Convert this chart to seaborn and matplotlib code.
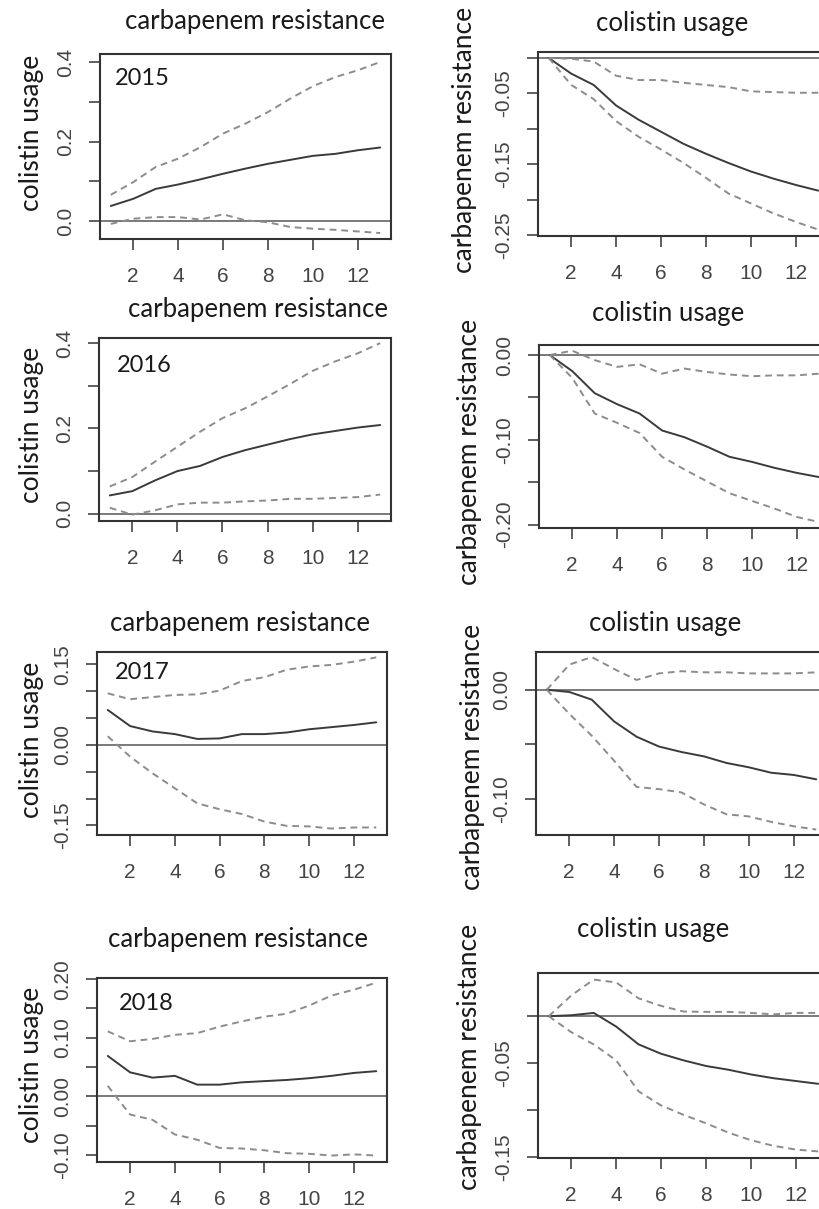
import pandas as pd
import matplotlib
matplotlib.use('Agg')
import matplotlib.pyplot as plt
import seaborn as sns

# impulse responses, horizon 1..13
steps = [1, 2, 3, 4, 5, 6, 7, 8, 9, 10, 11, 12, 13]
years = ['2015', '2016', '2017', '2018']

# left column: shock carbapenem resistance -> colistin usage
cr_2015_irf = [0.038, 0.056, 0.081, 0.092, 0.105, 0.119, 0.132, 0.144, 0.154, 0.164, 0.169, 0.178, 0.185]
cr_2015_hi = [0.066, 0.098, 0.136, 0.157, 0.186, 0.220, 0.245, 0.274, 0.308, 0.339, 0.362, 0.379, 0.400]
cr_2015_lo = [-0.007, 0.006, 0.010, 0.010, 0.004, 0.017, 0.002, -0.003, -0.015, -0.019, -0.022, -0.026, -0.030]

cr_2016_irf = [0.043, 0.053, 0.078, 0.100, 0.112, 0.133, 0.149, 0.162, 0.175, 0.186, 0.194, 0.202, 0.208]
cr_2016_hi = [0.064, 0.086, 0.122, 0.157, 0.192, 0.224, 0.247, 0.275, 0.304, 0.335, 0.357, 0.376, 0.400]
cr_2016_lo = [0.014, -0.002, 0.008, 0.022, 0.026, 0.026, 0.029, 0.031, 0.035, 0.035, 0.037, 0.039, 0.045]

cr_2017_irf = [0.065, 0.035, 0.025, 0.020, 0.011, 0.012, 0.020, 0.020, 0.023, 0.029, 0.033, 0.037, 0.042]
cr_2017_hi = [0.096, 0.085, 0.089, 0.093, 0.094, 0.101, 0.119, 0.126, 0.140, 0.146, 0.149, 0.155, 0.163]
cr_2017_lo = [0.016, -0.022, -0.053, -0.081, -0.109, -0.120, -0.129, -0.143, -0.151, -0.152, -0.156, -0.154, -0.154]

cr_2018_irf = [0.069, 0.041, 0.032, 0.035, 0.020, 0.020, 0.024, 0.026, 0.028, 0.031, 0.035, 0.040, 0.043]
cr_2018_hi = [0.111, 0.094, 0.098, 0.105, 0.108, 0.119, 0.128, 0.136, 0.141, 0.155, 0.172, 0.182, 0.194]
cr_2018_lo = [0.018, -0.031, -0.040, -0.065, -0.074, -0.088, -0.089, -0.092, -0.097, -0.098, -0.101, -0.099, -0.101]

# right column: shock colistin usage -> carbapenem resistance
cu_2015_irf = [0.0, -0.022, -0.038, -0.067, -0.087, -0.104, -0.121, -0.135, -0.148, -0.160, -0.170, -0.179, -0.187]
cu_2015_hi = [0.0, -0.001, -0.005, -0.025, -0.031, -0.031, -0.035, -0.038, -0.041, -0.047, -0.048, -0.049, -0.049]
cu_2015_lo = [0.0, -0.038, -0.058, -0.089, -0.111, -0.129, -0.148, -0.169, -0.191, -0.205, -0.219, -0.231, -0.242]

cu_2016_irf = [0.0, -0.019, -0.045, -0.058, -0.069, -0.089, -0.097, -0.108, -0.120, -0.126, -0.133, -0.139, -0.144]
cu_2016_hi = [0.0, 0.005, -0.006, -0.014, -0.011, -0.022, -0.016, -0.020, -0.023, -0.025, -0.024, -0.024, -0.022]
cu_2016_lo = [0.0, -0.027, -0.069, -0.080, -0.092, -0.120, -0.135, -0.149, -0.163, -0.172, -0.181, -0.191, -0.197]

cu_2017_irf = [0.0, -0.002, -0.009, -0.029, -0.043, -0.052, -0.057, -0.061, -0.067, -0.071, -0.076, -0.078, -0.082]
cu_2017_hi = [0.0, 0.023, 0.030, 0.019, 0.009, 0.015, 0.017, 0.016, 0.016, 0.015, 0.015, 0.015, 0.016]
cu_2017_lo = [0.0, -0.022, -0.042, -0.065, -0.089, -0.091, -0.094, -0.105, -0.114, -0.116, -0.121, -0.125, -0.128]

cu_2018_irf = [0.0, 0.001, 0.0035, -0.011, -0.030, -0.040, -0.047, -0.053, -0.057, -0.062, -0.066, -0.069, -0.072]
cu_2018_hi = [0.0, 0.022, 0.039, 0.036, 0.019, 0.011, 0.005, 0.0046, 0.0046, 0.0035, 0.002, 0.0035, 0.0035]
cu_2018_lo = [0.0, -0.017, -0.030, -0.047, -0.080, -0.095, -0.105, -0.114, -0.124, -0.132, -0.138, -0.142, -0.144]

# tick labels (R only prints every other one)
x_ticks = [2, 4, 6, 8, 10, 12]
cr_yticks = [
    ([0.0, 0.1, 0.2, 0.3, 0.4], ['0.0', '', '0.2', '', '0.4']),
    ([0.0, 0.1, 0.2, 0.3, 0.4], ['0.0', '', '0.2', '', '0.4']),
    ([-0.15, -0.10, -0.05, 0.0, 0.05, 0.10, 0.15], ['-0.15', '', '', '0.00', '', '', '0.15']),
    ([-0.10, -0.05, 0.0, 0.05, 0.10, 0.15, 0.20], ['-0.10', '', '0.00', '', '0.10', '', '0.20']),
]
cu_yticks = [
    ([-0.25, -0.20, -0.15, -0.10, -0.05, 0.0], ['-0.25', '', '-0.15', '', '-0.05', '']),
    ([-0.20, -0.15, -0.10, -0.05, 0.0], ['-0.20', '', '-0.10', '', '0.00']),
    ([-0.10, -0.05, 0.0], ['-0.10', '', '0.00']),
    ([-0.15, -0.10, -0.05, 0.0], ['-0.15', '', '-0.05', '']),
]

left_series = [(cr_2015_irf, cr_2015_hi, cr_2015_lo), (cr_2016_irf, cr_2016_hi, cr_2016_lo),
               (cr_2017_irf, cr_2017_hi, cr_2017_lo), (cr_2018_irf, cr_2018_hi, cr_2018_lo)]
right_series = [(cu_2015_irf, cu_2015_hi, cu_2015_lo), (cu_2016_irf, cu_2016_hi, cu_2016_lo),
                (cu_2017_irf, cu_2017_hi, cu_2017_lo), (cu_2018_irf, cu_2018_hi, cu_2018_lo)]

# ---- layout (pixels on the 820x1209 canvas) ----
W, H = 820, 1209
# left, top, right, bottom of the plot box, ylim, title (x, y), ylabel (x, y), year pos (axes frac)
left_layout = [
    ((100, 54, 391, 239), (-0.045, 0.42), (255, 22), (32, 133), (0.05, 0.87)),
    ((99, 338, 391, 521), (-0.017, 0.412), (258, 310), (32, 425), (0.06, 0.85)),
    ((97, 652, 387, 835), (-0.168, 0.173), (240, 623), (32, 740), (0.06, 0.89)),
    ((97, 978, 387, 1162), (-0.112, 0.202), (238, 940), (32, 1065), (0.075, 0.86)),
]
right_layout = [
    ((538, 52, 829, 236), (-0.251, 0.0085), (672, 23), (465, 140)),
    ((539, 345, 830, 528), (-0.204, 0.0118), (668, 313), (470, 452)),
    ((536, 652, 827, 835), (-0.133, 0.0346), (665, 623), (473, 757)),
    ((538, 973, 829, 1158), (-0.151, 0.046), (653, 930), (470, 1057)),
]

sns.set_style('white')
plt.rcParams['font.family'] = ['Liberation Sans', 'DejaVu Sans']
label_font = ['Lato', 'DejaVu Sans']

fig = plt.figure(figsize=(W / 100, H / 100), dpi=100)

palette = {'irf': '#3a3a3a', 'upper': '#8c8c8c', 'lower': '#8c8c8c'}
dashes = {'irf': '', 'upper': (3.5, 2.5), 'lower': (3.5, 2.5)}


def rect(box):
    l, t, r, b = box
    return [l / W, 1 - b / H, (r - l) / W, (b - t) / H]


def draw_panel(series, box, ylim, yticks, title, title_xy, ylabel, ylabel_xy, year=None, year_xy=None):
    ax = fig.add_axes(rect(box))
    irf, hi, lo = series
    df = pd.DataFrame({
        'step': steps * 3,
        'value': irf + hi + lo,
        'band': ['irf'] * len(steps) + ['upper'] * len(steps) + ['lower'] * len(steps),
    })
    ax.axhline(0, color='#555555', lw=1.1, zorder=1)
    sns.lineplot(data=df, x='step', y='value', hue='band', style='band',
                 palette=palette, dashes=dashes, estimator=None,
                 linewidth=1.4, legend=False, ax=ax)
    ax.set_xlim(0.52, 13.48)
    ax.set_ylim(*ylim)
    ax.set_xticks(x_ticks)
    ax.set_xticklabels([str(t) for t in x_ticks])
    ax.set_yticks(yticks[0])
    ax.set_yticklabels(yticks[1])
    ax.set_xlabel('')
    ax.set_ylabel('')
    ax.tick_params(axis='both', direction='out', length=8, width=1.1, color='#333333',
                   labelsize=15, labelcolor='#444444', left=True, bottom=True)
    ax.tick_params(axis='x', pad=12)
    ax.tick_params(axis='y', labelrotation=90, pad=10)
    for lab in ax.get_yticklabels():
        lab.set_va('center')
    for s in ax.spines.values():
        s.set_visible(True)
        s.set_color('#333333')
        s.set_linewidth(1.5)
    fig.text(title_xy[0] / W, 1 - title_xy[1] / H, title, ha='center', va='center',
             fontsize=18.5, color='#1a1a1a', family=label_font)
    fig.text(ylabel_xy[0] / W, 1 - ylabel_xy[1] / H, ylabel, ha='center', va='center',
             rotation=90, fontsize=19, color='#1a1a1a', family=label_font)
    if year is not None:
        ax.text(year_xy[0], year_xy[1], year, transform=ax.transAxes, ha='left', va='center',
                fontsize=17, color='#1a1a1a', family=label_font)
    return ax


for i in range(4):
    box, ylim, t_xy, yl_xy, yr_xy = left_layout[i]
    draw_panel(left_series[i], box, ylim, cr_yticks[i], 'carbapenem resistance', t_xy,
               'colistin usage', yl_xy, years[i], yr_xy)
    box, ylim, t_xy, yl_xy = right_layout[i]
    draw_panel(right_series[i], box, ylim, cu_yticks[i], 'colistin usage', t_xy,
               'carbapenem resistance', yl_xy)

fig.savefig('out.png', dpi=100)
